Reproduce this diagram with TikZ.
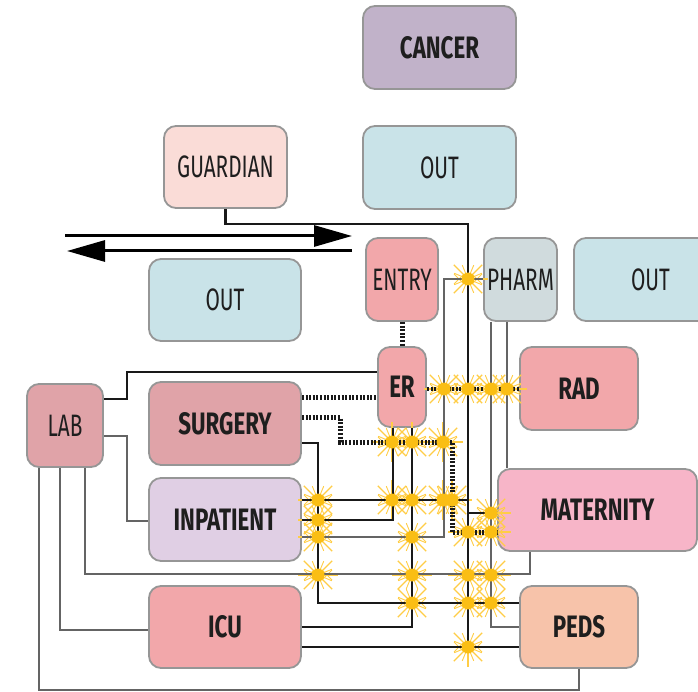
\documentclass[tikz,border=0pt]{standalone}
\usepackage{fontspec}
\newfontfamily\lblfont[FakeStretch=0.67]{Fira Sans}
\newfontfamily\lblbfont[FakeStretch=0.72]{Fira Sans}
\usetikzlibrary{arrows.meta}
\definecolor{cancerc}{RGB}{193,178,201}
\definecolor{outc}{RGB}{201,227,232}
\definecolor{guardc}{RGB}{250,220,215}
\definecolor{redc}{RGB}{242,167,170}
\definecolor{pharmc}{RGB}{208,219,221}
\definecolor{labc}{RGB}{224,163,168}
\definecolor{inpc}{RGB}{224,207,228}
\definecolor{matc}{RGB}{247,181,200}
\definecolor{pedsc}{RGB}{247,195,170}
\definecolor{boxgray}{RGB}{150,150,150}
\definecolor{txt}{RGB}{30,30,30}
\definecolor{lineblk}{RGB}{25,25,25}
\definecolor{linegry}{RGB}{100,100,100}
\definecolor{sparkc}{RGB}{250,190,20}
\definecolor{rayc}{RGB}{255,205,70}
\def\sparklist{468/279, 444/389, 468/389, 491/389, 507/389,
  392/442, 412/442, 443/442,
  318/500, 392/500, 412/500, 443/500, 452/500,
  491/513, 318/520, 468/532, 491/532, 318/537, 412/537,
  318/575, 412/575, 468/575, 491/575,
  412/603, 468/603, 491/603, 468/647}
\begin{document}
\begin{tikzpicture}[x=1pt,y=-1pt,
  box/.style={draw=boxgray, line width=1.8pt, rounded corners=12pt, inner sep=0pt,
    font=\lblfont\fontsize{31}{31}\selectfont, text=txt},
  bbox/.style={box, font=\lblbfont\bfseries\fontsize{31}{31}\selectfont},
  blk/.style={draw=lineblk, line width=2.7pt},
  gry/.style={draw=linegry, line width=1.5pt},
  dots/.style={draw=lineblk, line width=5pt, dash pattern=on 2pt off 1.6pt},
  arr/.style={draw=black, line width=3pt, -{Triangle[length=38pt,width=21pt]}},
  raylong/.style={draw=rayc, line width=1.2pt},
  rayshort/.style={draw=rayc, line width=0.9pt},
]
\useasboundingbox (0,0) rectangle (698,692);
% boxes
\node[bbox, fill=cancerc, minimum width=153pt, minimum height=83pt] (cancer) at (439.5,47.5) {CANCER};
\node[box, fill=outc, minimum width=153pt, minimum height=83pt] (outtop) at (439.5,167.5) {OUT};
\node[box, fill=guardc, minimum width=123pt, minimum height=82pt] (guardian) at (225.5,167) {GUARDIAN};
\node[box, fill=outc, minimum width=152pt, minimum height=82pt] (outleft) at (225,300) {OUT};
\node[box, fill=redc, minimum width=72pt, minimum height=83pt] (entry) at (402,279.5) {ENTRY};
\node[box, fill=pharmc, minimum width=73pt, minimum height=83pt] (pharm) at (520.5,279.5) {PHARM};
\node[box, fill=outc, minimum width=146pt, minimum height=83pt, text width=124pt, align=left] (outright) at (647,279.5) {\hspace*{46pt}OUT};
\node[bbox, fill=redc, minimum width=48pt, minimum height=80pt] (er) at (402,387) {ER};
\node[bbox, fill=redc, minimum width=118pt, minimum height=83pt] (rad) at (579,388.5) {RAD};
\node[box, fill=labc, minimum width=76pt, minimum height=83pt] (lab) at (65,425.5) {LAB};
\node[bbox, fill=labc, minimum width=152pt, minimum height=83pt] (surgery) at (225,423.5) {SURGERY};
\node[bbox, fill=inpc, minimum width=152pt, minimum height=83pt] (inpatient) at (225,519.5) {INPATIENT};
\node[bbox, fill=matc, minimum width=199pt, minimum height=82pt] (maternity) at (597.5,510) {MATERNITY};
\node[bbox, fill=redc, minimum width=152pt, minimum height=82pt] (icu) at (225,627) {ICU};
\node[bbox, fill=pedsc, minimum width=118pt, minimum height=82pt] (peds) at (579,627) {PEDS};
% arrows
\coordinate (aL1) at (65,236); \coordinate (aR1) at (352,236);
\coordinate (aL2) at (67,251); \coordinate (aR2) at (352,251);
\draw[arr] (aL1) -- (aR1);
\draw[arr] (aR2) -- (aL2);
% spark rays (behind lines)
\foreach \x/\y in \sparklist {
  \foreach \a in {0,45,...,315} \draw[raylong] (\x,\y) -- ++(\a:20pt);
  \foreach \a in {22.5,67.5,...,337.5} \draw[rayshort] (\x,\y) -- ++(\a:15pt);
  \draw[rayshort] ([xshift=-14pt,yshift=-5pt]\x,\y) -- ([xshift=-4pt,yshift=5pt]\x,\y)
                  ([xshift=-14pt,yshift=5pt]\x,\y) -- ([xshift=-4pt,yshift=-5pt]\x,\y)
                  ([xshift=14pt,yshift=-5pt]\x,\y) -- ([xshift=4pt,yshift=5pt]\x,\y)
                  ([xshift=14pt,yshift=5pt]\x,\y) -- ([xshift=4pt,yshift=-5pt]\x,\y);
}
% gray lines
\draw[gry] (pharm.west |- 0,279) -- (444,279) -- (444,537) -- (inpatient.east |- 0,537);
\draw[gry] (507,0 |- pharm.south) -- (507,0 |- maternity.north);
\draw[gry] (491,0 |- pharm.south) -- (491,627) -- (peds.west |- 0,627);
\draw[gry] (85,0 |- lab.south) -- (85,574) -- (530,574) -- (530,0 |- maternity.south);
\draw[gry] (60,0 |- lab.south) -- (60,630) -- (icu.west |- 0,630);
\draw[gry] (lab.east |- 0,436) -- (127,436) -- (127,521) -- (inpatient.west |- 0,521);
\draw[gry] (39,0 |- lab.south) -- (39,690) -| (peds.south);
% black lines
\draw[blk] (guardian.south) |- (468,224) -- (468,647);
\draw[blk] (inpatient.east |- 0,500) -- (468,500);
\draw[blk] (468,513) -- (maternity.west |- 0,513);
\draw[blk] (393,0 |- er.south) -- (393,520) -- (inpatient.east |- 0,520);
\draw[blk] (412,0 |- er.south) -- (412,627) -- (icu.east |- 0,627);
\draw[blk] (surgery.east |- 0,443) -- (318,443) -- (318,603) -- (peds.west |- 0,603);
\draw[blk] (icu.east |- 0,647) -- (peds.west |- 0,647);
\draw[blk] (lab.east |- 0,399) -- (127,399) -- (127,372) -- (er.west |- 0,372);
% dotted lines
\draw[dots] (entry.south) -- (er.north);
\draw[dots] (surgery.east |- 0,397) -- (er.west |- 0,397);
\draw[dots, line width=4.5pt] (er.east |- 0,389) -- (rad.west |- 0,389);
\draw[dots] (surgery.east |- 0,417) -- (340,417) -- (340,442) -- (452,442) -- (452,532) -- (maternity.west |- 0,532);
% spark centres
\foreach \x/\y in \sparklist {\fill[sparkc] (\x,\y) circle (6.5pt);}
\end{tikzpicture}
\end{document}
